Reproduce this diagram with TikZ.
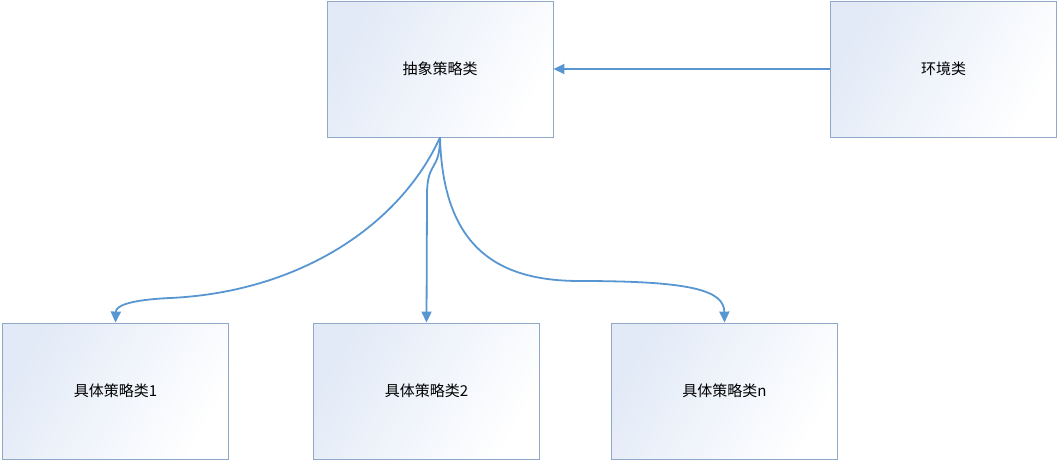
\documentclass[tikz,border=0pt]{standalone}
\usepackage{fontspec}
\newfontfamily\cjk{Noto Sans CJK SC}
\usetikzlibrary{arrows.meta}
\definecolor{boxline}{RGB}{143,168,200}
\definecolor{boxfill}{RGB}{226,234,247}
\definecolor{linkblue}{RGB}{88,150,210}
\begin{document}
\begin{tikzpicture}[x=1pt,y=-1pt,
  box/.style={draw=boxline,line width=0.9pt,left color=boxfill,right color=white,shading angle=60,
    minimum width=226pt,minimum height=136pt,inner sep=0pt,font=\cjk\fontsize{15}{18}\selectfont},
  link/.style={draw=linkblue,line width=1.8pt,-{Triangle[length=11pt,width=10pt]}}]
\useasboundingbox (0,0) rectangle (1059,461);
\node[box] (abs) at (440,69) {抽象策略类};
\node[box] (env) at (943.5,69) {环境类};
\node[box] (c1) at (115.5,391) {具体策略类1};
\node[box] (c2) at (426.5,391) {具体策略类2};
\node[box] (c3) at (724.5,391) {具体策略类n};
\draw[link] (env.west) -- (abs.east);
\draw[link] (abs.south) .. controls (400,225) and (300,292) .. (170,298)
  .. controls (128,300) and (116,306) .. (c1.north);
\draw[link] (abs.south) .. controls (440,172) and (427,160) .. (427,195) -- (c2.north);
\draw[link] (abs.south) .. controls (443,250) and (500,281) .. (580,281)
  .. controls (690,281) and (724,290) .. (c3.north);
\end{tikzpicture}
\end{document}
